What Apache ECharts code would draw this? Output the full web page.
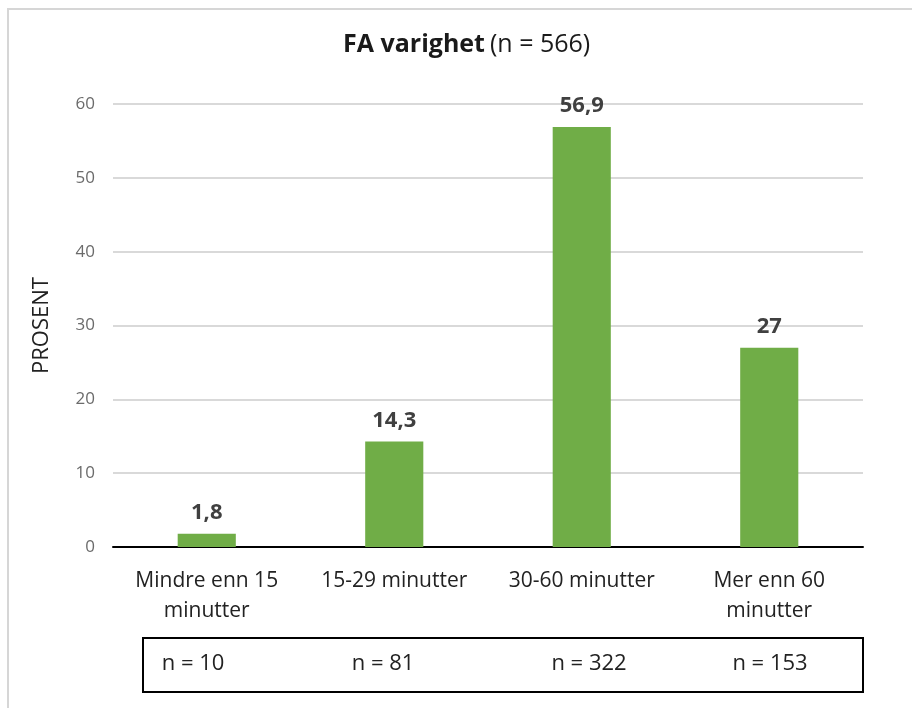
<!DOCTYPE html>
<html>
<head>
<meta charset="utf-8">
<script src="https://cdn.jsdelivr.net/npm/echarts@6/dist/echarts.min.js"></script>
<style>
  html, body { margin: 0; padding: 0; background: #fff; }
  #chart { width: 912px; height: 708px; }
</style>
</head>
<body>
<div id="chart"></div>
<script>
// Duration categories and share of respondents (percent)
const categories = ['Mindre enn 15\nminutter', '15-29 minutter', '30-60 minutter', 'Mer enn 60\nminutter'];
const percentValues = [1.8, 14.3, 56.9, 27];
// Respondent counts per category, shown in the box under the axis
const groupCounts = [10, 81, 322, 153];
const totalCount = 566;
const yTicks = { min: 0, max: 60, interval: 10 };

const FONT = '"Open Sans", Lato, sans-serif';
const chart = echarts.init(document.getElementById('chart'), null, { renderer: 'canvas' });

// horizontal centres of the count labels inside the box
const countX = [193, 383, 589, 770];

const option = {
  backgroundColor: '#ffffff',
  animation: false,
  title: {
    text: '{b|FA varighet} {n|(n = ' + totalCount + ')}',
    left: 338,
    top: 27,
    textStyle: {
      rich: {
        b: { fontFamily: FONT, fontSize: 25, fontWeight: 'bold', color: '#1a1a1a' },
        n: { fontFamily: FONT, fontSize: 25, fontWeight: 'normal', color: '#1a1a1a' }
      }
    }
  },
  grid: { left: 113, right: 49, top: 104, bottom: 161 },
  xAxis: {
    type: 'category',
    data: categories,
    axisLine: { show: true, lineStyle: { color: '#000000', width: 2 } },
    axisTick: { show: false },
    axisLabel: {
      interval: 0,
      margin: 19,
      fontFamily: FONT,
      fontSize: 21,
      lineHeight: 30,
      color: '#222222'
    }
  },
  yAxis: {
    type: 'value',
    min: yTicks.min,
    max: yTicks.max,
    interval: yTicks.interval,
    name: 'PROSENT',
    nameLocation: 'middle',
    nameGap: 60,
    nameRotate: 90,
    nameTextStyle: { fontFamily: FONT, fontSize: 22, color: '#222222' },
    axisLine: { show: false },
    axisTick: { show: false },
    axisLabel: { margin: 18, fontFamily: FONT, fontSize: 17, color: '#6b6b6b' },
    splitLine: { show: true, lineStyle: { color: '#d9d9d9', width: 2 } }
  },
  series: [{
    type: 'bar',
    data: percentValues,
    barWidth: '31%',
    itemStyle: { color: '#70ad47' },
    label: {
      show: true,
      position: 'top',
      distance: 10,
      fontFamily: FONT,
      fontSize: 22,
      fontWeight: 'bold',
      color: '#404040',
      formatter: p => String(p.value).replace('.', ',')
    }
  }],
  graphic: [
    {
      type: 'rect',
      shape: { x: 8, y: 9, width: 1000, height: 800 },
      style: { fill: 'none', stroke: '#d6d6d6', lineWidth: 2 },
      silent: true
    },
    {
      type: 'rect',
      shape: { x: 143, y: 638, width: 720, height: 54 },
      style: { fill: 'none', stroke: '#000000', lineWidth: 2 },
      silent: true
    }
  ].concat(groupCounts.map((n, i) => ({
    type: 'text',
    x: countX[i],
    y: 664,
    style: {
      text: 'n = ' + n,
      align: 'center',
      verticalAlign: 'middle',
      fontFamily: FONT,
      fontSize: 22,
      fill: '#222222'
    },
    silent: true
  })))
};

chart.setOption(option);
</script>
</body>
</html>
